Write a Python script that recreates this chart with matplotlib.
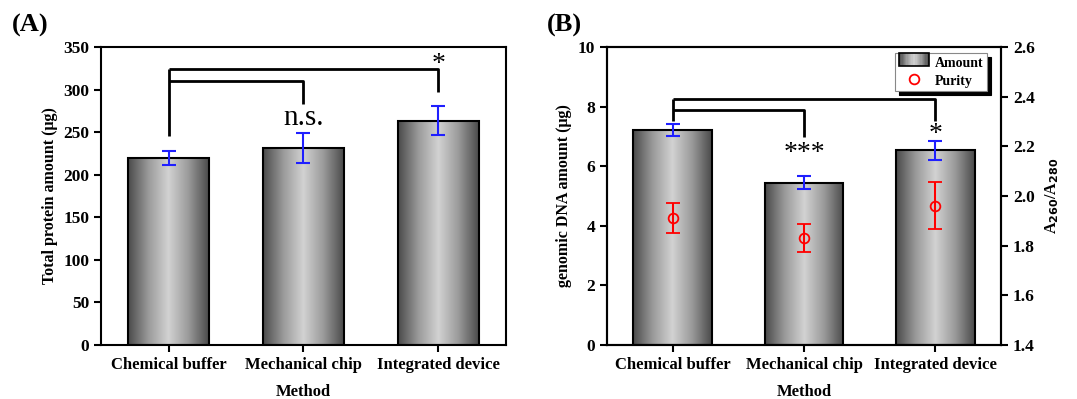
import matplotlib
import numpy as np
from matplotlib.colors import LinearSegmentedColormap
from matplotlib.legend_handler import HandlerBase
from matplotlib.lines import Line2D
from matplotlib.patches import Rectangle

matplotlib.use("Agg")
import matplotlib.pyplot as plt

METHODS = ["Chemical buffer", "Mechanical chip", "Integrated device"]
PROTEIN_MEAN = [219.5, 231, 263.5]
PROTEIN_ERR = [8, 17.5, 17]
DNA_MEAN = [7.2, 5.44, 6.53]
DNA_ERR = [0.2, 0.22, 0.31]
PURITY_MEAN = [1.91, 1.832, 1.961]
PURITY_ERR = [0.06, 0.056, 0.094]

# significance brackets: (top line, lower line, left foot, foot of chip, foot of device)
SIG_A = [324.5, 309.5, 246, 283, 297.5]
SIG_A_TEXT = ["n.s.", "*"]
SIG_B = [8.27, 7.87, 7.51, 6.98, 7.51]
SIG_B_TEXT = ["***", "*"]

SERIF = "Liberation Serif"
GRAD = LinearSegmentedColormap.from_list("bar", ["#4a4a4a", "#9a9a9a", "#d2d2d2", "#9a9a9a", "#4a4a4a"])
GRAD_IMG = np.linspace(0, 1, 256).reshape(1, -1)

plt.rcParams.update(
    {
        "font.family": SERIF,
        "font.weight": "bold",
        "axes.linewidth": 1.5,
        "xtick.major.width": 1.5,
        "ytick.major.width": 1.5,
        "xtick.major.size": 5,
        "ytick.major.size": 5,
        "xtick.labelsize": 12,
        "ytick.labelsize": 12.5,
    }
)


def gradient_bars(ax, means):
    x = np.arange(len(means))
    bars = ax.bar(x, means, width=0.6, facecolor="none", edgecolor="black", linewidth=1.5, zorder=3)
    for b in bars:
        im = ax.imshow(
            GRAD_IMG,
            cmap=GRAD,
            aspect="auto",
            extent=[b.get_x(), b.get_x() + b.get_width(), 0, b.get_height()],
            zorder=2,
        )
        im.set_clip_path(b)
    return bars


def bracket(ax, levels, labels, text_y, sizes):
    top, low, foot0, foot1, foot2 = levels
    kw = dict(color="black", linewidth=2, zorder=4, solid_capstyle="butt")
    ax.plot([0, 0], [foot0, top], **kw)
    ax.plot([0, 2, 2], [top, top, foot2], **kw)
    ax.plot([0, 1, 1], [low, low, foot1], **kw)
    ax.text(1, text_y[0], labels[0], ha="center", va="center", fontsize=sizes[0], fontweight="normal", zorder=5)
    ax.text(2, text_y[1], labels[1], ha="center", va="center", fontsize=sizes[1], fontweight="normal", zorder=5)


def style_axis(ax):
    ax.set_xlim(-0.5, 2.5)
    ax.set_xticks(np.arange(len(METHODS)))
    ax.set_xticklabels(METHODS)
    ax.set_xlabel("Method", fontsize=12, fontweight="bold", labelpad=8)
    ax.tick_params(direction="out", top=False, right=False)


class GradientHandler(HandlerBase):
    def create_artists(self, legend, orig, xd, yd, w, h, fontsize, trans):
        arts = []
        n = 24
        for i in range(n):
            c = GRAD(i / (n - 1))
            arts.append(Rectangle((xd + w * i / n, yd), w / n, h, facecolor=c, edgecolor="none", transform=trans))
        arts.append(Rectangle((xd, yd), w, h, facecolor="none", edgecolor="black", linewidth=1.2, transform=trans))
        return arts


fig = plt.figure(figsize=(10.77, 3.99), dpi=100)
axA = fig.add_axes([0.0938, 0.1353, 0.376, 0.7469])
axB = fig.add_axes([0.5636, 0.1353, 0.3658, 0.7469])

# (A) protein
gradient_bars(axA, PROTEIN_MEAN)
axA.errorbar(np.arange(3), PROTEIN_MEAN, yerr=PROTEIN_ERR, fmt="none", ecolor="#1f1fff", elinewidth=1.5, capsize=5, capthick=1.5, zorder=5)
style_axis(axA)
axA.set_ylim(0, 350)
axA.set_yticks(np.arange(0, 351, 50))
axA.set_ylabel("Total protein amount (\u03bcg)", fontsize=11.5, fontweight="bold")
bracket(axA, SIG_A, SIG_A_TEXT, [267, 330], [21, 20])

# (B) genomic DNA + purity
gradient_bars(axB, DNA_MEAN)
axB.errorbar(np.arange(3), DNA_MEAN, yerr=DNA_ERR, fmt="none", ecolor="#1f1fff", elinewidth=1.5, capsize=5, capthick=1.5, zorder=5)
style_axis(axB)
axB.set_ylim(0, 10)
axB.set_yticks(np.arange(0, 11, 2))
axB.set_ylabel("genomic DNA amount (\u03bcg)", fontsize=11.5, fontweight="bold")
bracket(axB, SIG_B, SIG_B_TEXT, [6.42, 7.05], [20, 20])

axB2 = axB.twinx()
axB2.errorbar(
    np.arange(3), PURITY_MEAN, yerr=PURITY_ERR, fmt="o", color="red", mfc="none", mec="red",
    ms=7, mew=1.3, elinewidth=1.5, capsize=5, capthick=1.5, zorder=6,
)
axB2.set_ylim(1.4, 2.6)
axB2.set_yticks(np.arange(1.4, 2.61, 0.2))
axB2.set_yticklabels([f"{v:.1f}" for v in np.arange(1.4, 2.61, 0.2)])
axB2.tick_params(direction="out", labelsize=12.5)
axB2.set_ylabel("A$_{260}$/A$_{280}$", fontsize=11.5, fontweight="bold", labelpad=6)

amount_h = Rectangle((0, 0), 1, 1)
purity_h = Line2D([], [], marker="o", linestyle="none", mfc="none", mec="red", ms=7, mew=1.3)
leg = axB2.legend(
    [amount_h, purity_h], ["Amount", "Purity"], loc="upper right",
    bbox_to_anchor=(0.975, 0.995), handler_map={Rectangle: GradientHandler()},
    prop={"family": SERIF, "weight": "bold", "size": 10}, fancybox=False,
    shadow={"color": "black", "alpha": 1, "ox": 3, "oy": -3}, edgecolor="#888888", framealpha=1,
    handlelength=2.2, handleheight=1.0, borderpad=0.25, labelspacing=0.25, handletextpad=0.4,
    borderaxespad=0.3,
)
leg.get_frame().set_linewidth(0.8)

fig.text(0.011, 0.935, "(A)", fontsize=19, fontweight="bold", va="center")
fig.text(0.508, 0.935, "(B)", fontsize=19, fontweight="bold", va="center")

fig.savefig("out.png", dpi=100)
